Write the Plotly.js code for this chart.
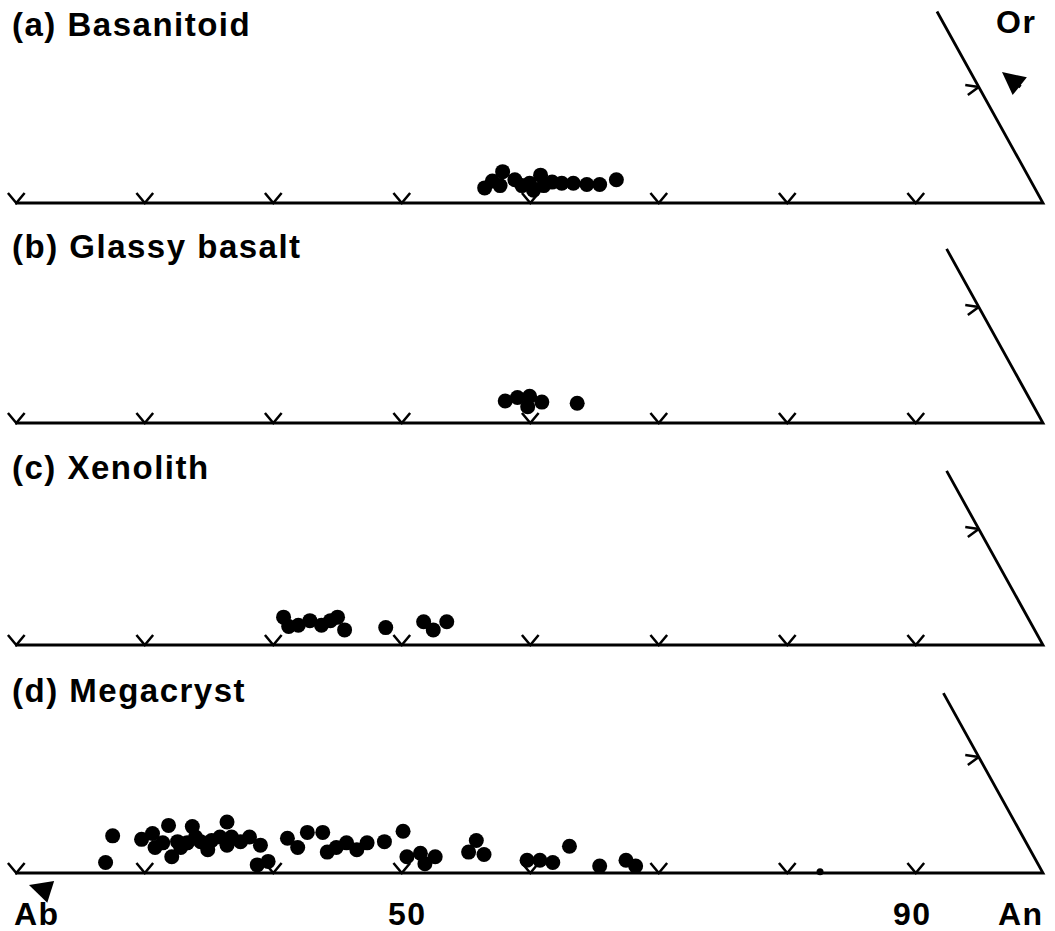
<!DOCTYPE html>
<html>
<head>
<meta charset="utf-8">
<script src="https://cdn.plot.ly/plotly-3.0.1.min.js"></script>
<style>
html,body{margin:0;padding:0;background:#fff;}
#chart{width:1055px;height:931px;}
.annotation-text{letter-spacing:1.5px;}
</style>
</head>
<body>
<div id="chart"></div>
<script>
// ---- data (An %, Or %) ----
const tickAn = [20, 30, 40, 50, 60, 70, 80, 90];
const panelTitles = ['(a) Basanitoid', '(b) Glassy basalt', '(c) Xenolith', '(d) Megacryst'];
const axisLabels = ['Ab', '50', '90', 'An'];

const basAn = [55.9,56.2,56.6,57.0,57.9,58.7,59.2,59.8,59.7,60.4,60.9,61.7,62.6,63.7,64.7,65.8];
const basOr = [1.3,1.9,2.7,1.5,2.0,1.5,1.7,1.1,2.4,1.5,1.8,1.7,1.7,1.6,1.6,2.0];

const glaAn = [57.2,58.0,58.9,59.2,60.1,62.9];
const glaOr = [1.9,2.2,2.3,1.4,1.8,1.7];

const xenAn = [39.7,40.5,41.2,41.9,43.0,43.5,43.9,45.0,48.1,50.8,51.9,52.6];
const xenOr = [2.4,1.6,1.7,2.1,1.7,2.1,2.4,1.3,1.5,2.0,1.3,2.0];

const megAn = [26.6,26.0,28.4,29.0,29.8,29.9,30.2,31.3,31.5,31.8,31.8,32.1,32.5,33.1,34.0,33.9,34.3,34.4,35.3,35.3,
               36.2,36.7,37.9,38.5,39.2,39.7,40.9,41.0,42.2,43.4,43.9,44.5,45.6,46.1,47.4,48.4,49.8,50.7,51.5,52.0,
               54.4,54.5,55.7,59.3,60.3,61.4,62.0,65.2,67.0,68.0];
const megOr = [0.9,3.2,2.9,3.4,2.2,4.1,2.6,2.7,1.4,2.2,4.0,2.6,3.1,2.7,2.0,2.8,4.4,3.1,3.1,2.4,
               2.7,3.1,2.4,0.7,1.0,3.0,2.2,3.5,3.5,1.8,2.2,2.6,2.0,2.6,2.7,3.6,1.4,1.7,0.8,1.4,
               1.8,2.8,1.6,1.1,1.1,0.9,2.3,0.6,1.1,0.6];
const megSmallAn = [82.6];
const megSmallOr = [0.1];

const edgeTopOr = [16.5, 15, 15, 15.5];   // extent of the An–Or edge drawn in each panel
const edgeTickOr = 10;

// ---- layout geometry ----
const W = 1055, H = 931;
const S3 = Math.sqrt(3) / 2;
const pxPerY = 13.4;
const xRange = [18.833, 100.934];
const panelsPx = [
  {top: 0,   bottom: 220, base: 203},
  {top: 222, bottom: 442, base: 423},
  {top: 444, bottom: 664, base: 645},
  {top: 666, bottom: 893, base: 873}
];
const seriesAn = [basAn, glaAn, xenAn, megAn];
const seriesOr = [basOr, glaOr, xenOr, megOr];

function tx(an, or) { return an + or / 2; }
function ty(or) { return or * S3; }

const traces = [];
const layout = {
  width: W, height: H,
  margin: {l: 0, r: 0, t: 0, b: 0},
  paper_bgcolor: '#fff', plot_bgcolor: 'rgba(0,0,0,0)',
  showlegend: false,
  font: {family: 'Liberation Sans, Arial, sans-serif', color: '#000'},
  annotations: []
};

panelsPx.forEach((p, i) => {
  const n = i === 0 ? '' : String(i + 1);
  const xa = 'x' + n, ya = 'y' + n;
  layout['xaxis' + n] = {domain: [0, 1], range: xRange, visible: false, fixedrange: true, anchor: ya};
  layout['yaxis' + n] = {
    domain: [1 - p.bottom / H, 1 - p.top / H],
    range: [-(p.bottom - p.base) / pxPerY, (p.base - p.top) / pxPerY],
    visible: false, fixedrange: true, anchor: xa
  };
  const lineStyle = {color: '#000', width: 2.8};
  const topOr = edgeTopOr[i];
  traces.push({x: [tx(tickAn[0], 0), tx(100, 0), tx(100 - topOr, topOr)], y: [0, 0, ty(topOr)],
    xaxis: xa, yaxis: ya, mode: 'lines', line: lineStyle, hoverinfo: 'skip'});
  const vx = [], vy = [];
  tickAn.forEach(t => {
    vx.push(t - 0.55, t + 0.1, t + 0.75, null);
    vy.push(0.75, 0, 0.75, null);
  });
  const ex = tx(100 - edgeTickOr, edgeTickOr), ey = ty(edgeTickOr);
  vx.push(ex - 1.05, ex, ex - 0.85, null);
  vy.push(ey + 0.15, ey, ey - 0.6, null);
  traces.push({x: vx, y: vy, xaxis: xa, yaxis: ya, mode: 'lines', line: {color: '#000', width: 2.5}, hoverinfo: 'skip'});
  const an = seriesAn[i], or = seriesOr[i];
  traces.push({x: an.map((a, k) => tx(a, or[k])), y: or.map(o => ty(o)), xaxis: xa, yaxis: ya,
    mode: 'markers', marker: {size: 15, color: '#000'}, hoverinfo: 'skip'});
  if (i === 3) {
    traces.push({x: megSmallAn.map((a, k) => tx(a, megSmallOr[k])), y: megSmallOr.map(o => ty(o)),
      xaxis: xa, yaxis: ya, mode: 'markers', marker: {size: 7, color: '#000'}, hoverinfo: 'skip'});
  }
  layout.annotations.push({
    text: '<b>' + panelTitles[i] + '</b>', xref: 'paper', yref: 'paper',
    x: 10 / W, y: 1 - (p.top + 24) / H, xanchor: 'left', yanchor: 'middle',
    showarrow: false, font: {size: 33, color: '#000'}
  });
});

// Or label + arrow (panel a): head at (x,y), tail offset by (ax, ay) pixels (right/down)
layout.annotations.push({text: '<b>Or</b>', xref: 'paper', yref: 'paper', x: 1016 / W, y: 1 - 22 / H,
  xanchor: 'center', yanchor: 'middle', showarrow: false, font: {size: 32}});
layout.annotations.push({text: '', xref: 'paper', yref: 'paper', x: 1002 / W, y: 1 - 72 / H,
  ax: 20, ay: 16, showarrow: true, arrowhead: 2, arrowsize: 1.3, arrowwidth: 3.5, arrowcolor: '#000',
  standoff: 0, startstandoff: 0});
// Ab arrow
layout.annotations.push({text: '', xref: 'paper', yref: 'paper', x: 29 / W, y: 1 - 885 / H,
  ax: 19, ay: 6, showarrow: true, arrowhead: 2, arrowsize: 1.3, arrowwidth: 3.5, arrowcolor: '#000',
  standoff: 0, startstandoff: 0});
// bottom labels
const labelPos = [[12, 'left'], [407, 'center'], [912, 'center'], [1046, 'right']];
axisLabels.forEach((t, k) => {
  layout.annotations.push({text: '<b>' + t + '</b>', xref: 'paper', yref: 'paper',
    x: labelPos[k][0] / W, y: 1 - 914 / H, xanchor: labelPos[k][1], yanchor: 'middle',
    showarrow: false, font: {size: 32}});
});

Plotly.newPlot('chart', traces, layout, {staticPlot: true, displayModeBar: false});
</script>
</body>
</html>
